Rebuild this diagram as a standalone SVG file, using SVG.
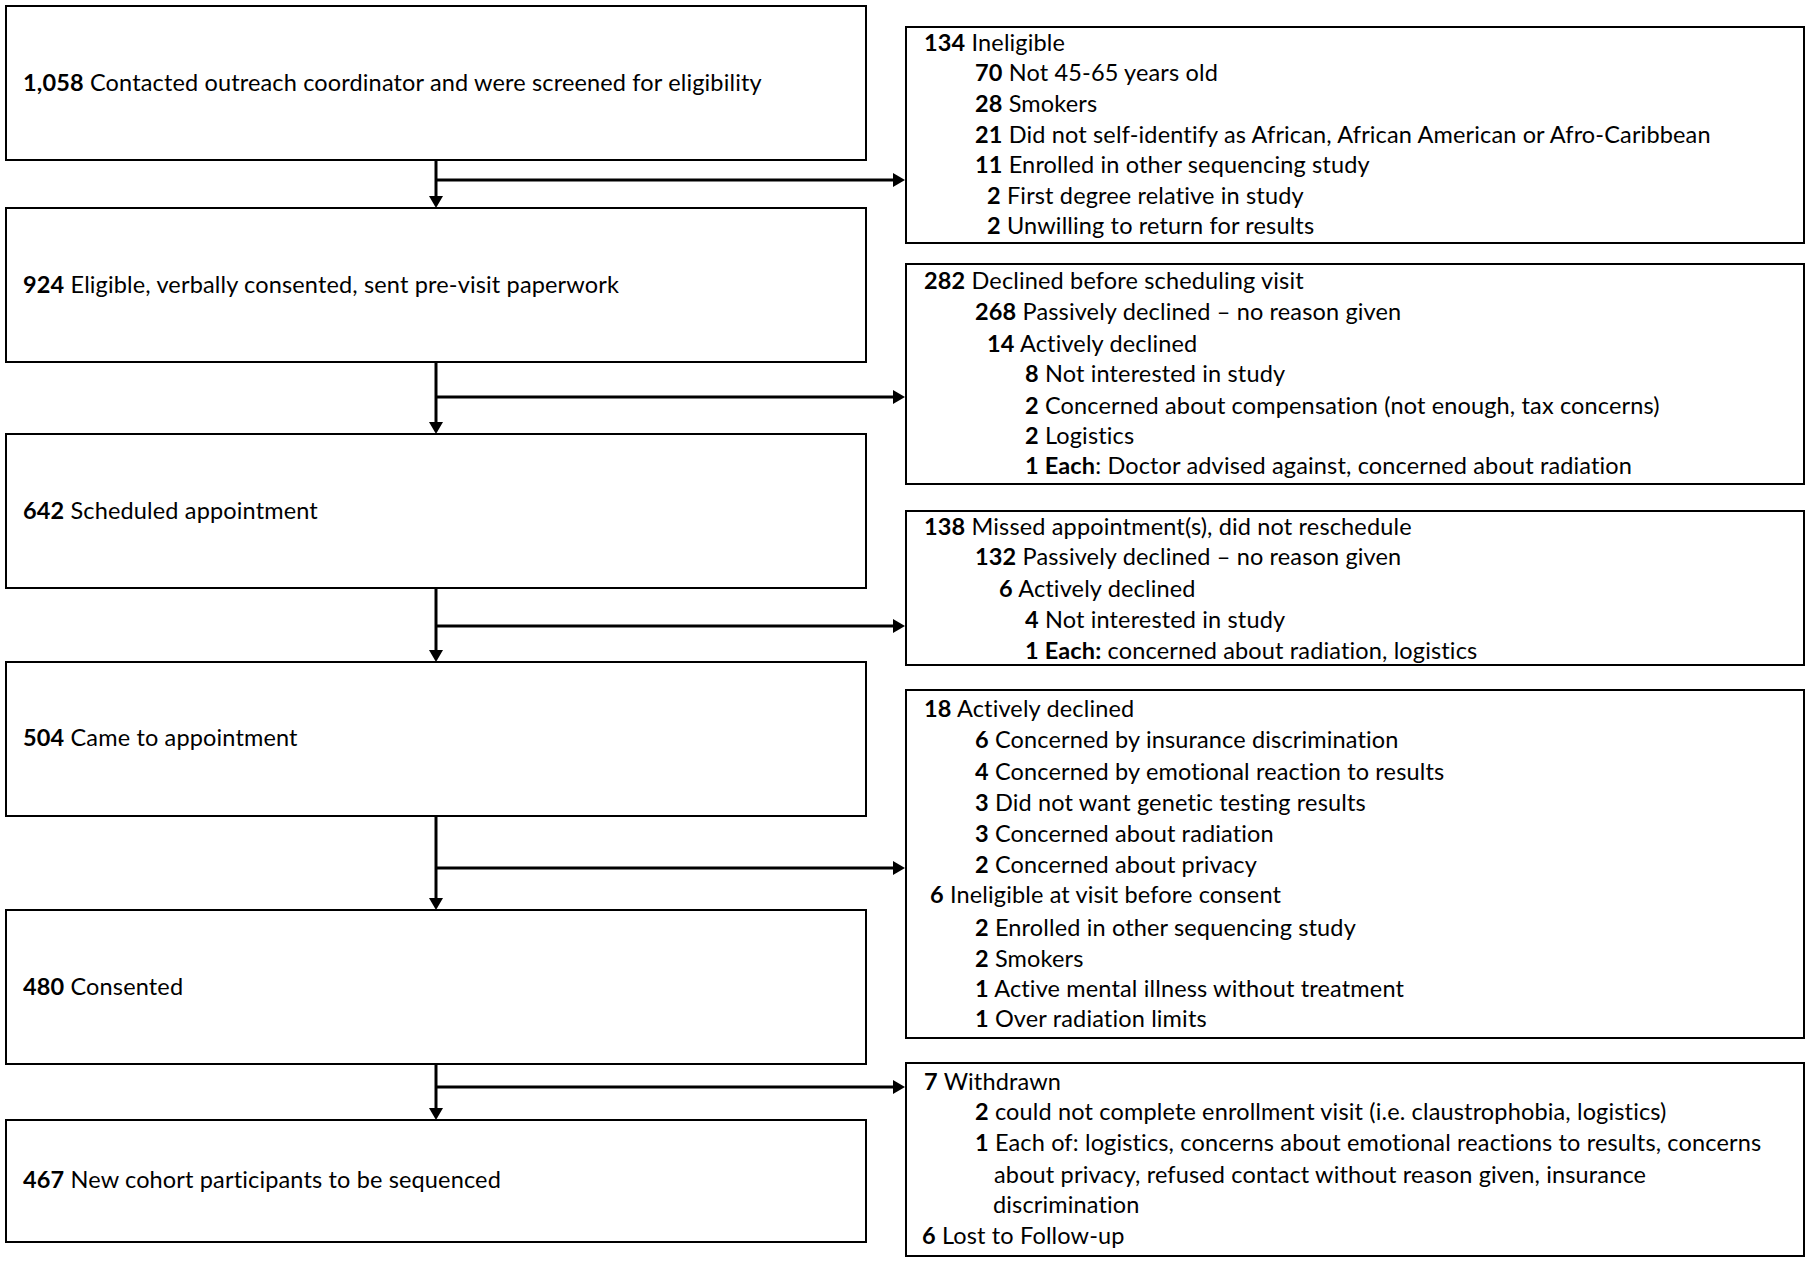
<svg xmlns="http://www.w3.org/2000/svg" width="1810" height="1262" viewBox="0 0 1810 1262">
<style>
.box{fill:#fff;stroke:#000;stroke-width:2}
.t{font-family:Lato,"Liberation Sans",sans-serif;font-size:23.5px;letter-spacing:0.15px;fill:#000}
.b{font-weight:bold}
.c{stroke:#000;stroke-width:3;fill:none;marker-end:url(#ah)}
</style>
<defs>
<marker id="ah" markerUnits="userSpaceOnUse" markerWidth="14" markerHeight="14" refX="0" refY="7" orient="auto" viewBox="0 0 14 14">
<path d="M0,0 L12,7 L0,14 z" fill="#000"/>
</marker>
</defs>
<rect width="1810" height="1262" fill="#fff"/>
<g id="connectors">
<line class="c" x1="436" y1="160" x2="436" y2="196"/>
<line class="c" x1="436" y1="180" x2="893" y2="180"/>
<line class="c" x1="436" y1="362" x2="436" y2="422"/>
<line class="c" x1="436" y1="397" x2="893" y2="397"/>
<line class="c" x1="436" y1="588" x2="436" y2="650"/>
<line class="c" x1="436" y1="626" x2="893" y2="626"/>
<line class="c" x1="436" y1="816" x2="436" y2="898"/>
<line class="c" x1="436" y1="868" x2="893" y2="868"/>
<line class="c" x1="436" y1="1064" x2="436" y2="1108"/>
<line class="c" x1="436" y1="1087" x2="893" y2="1087"/>
</g>
<g id="n1"><rect class="box" x="6" y="6" width="860" height="154"/>
<text class="t" x="23" y="91"><tspan class="b">1,058</tspan> Contacted outreach coordinator and were screened for eligibility</text></g>
<g id="n2"><rect class="box" x="6" y="208" width="860" height="154"/>
<text class="t" x="23" y="293"><tspan class="b">924</tspan> Eligible, verbally consented, sent pre-visit paperwork</text></g>
<g id="n3"><rect class="box" x="6" y="434" width="860" height="154"/>
<text class="t" x="23" y="519"><tspan class="b">642</tspan> Scheduled appointment</text></g>
<g id="n4"><rect class="box" x="6" y="662" width="860" height="154"/>
<text class="t" x="23" y="746"><tspan class="b">504</tspan> Came to appointment</text></g>
<g id="n5"><rect class="box" x="6" y="910" width="860" height="154"/>
<text class="t" x="23" y="995"><tspan class="b">480</tspan> Consented</text></g>
<g id="n6"><rect class="box" x="6" y="1120" width="860" height="122"/>
<text class="t" x="23" y="1188"><tspan class="b">467</tspan> New cohort participants to be sequenced</text></g>

<g id="r1"><rect class="box" x="906" y="27" width="898" height="216"/>
<text class="t" x="924" y="51"><tspan class="b">134</tspan> Ineligible</text>
<text class="t" x="975" y="81"><tspan class="b">70</tspan> Not 45-65 years old</text>
<text class="t" x="975" y="112"><tspan class="b">28</tspan> Smokers</text>
<text class="t" x="975" y="143"><tspan class="b">21</tspan> Did not self-identify as African, African American or Afro-Caribbean</text>
<text class="t" x="975" y="173"><tspan class="b">11</tspan> Enrolled in other sequencing study</text>
<text class="t" x="987" y="204"><tspan class="b">2</tspan> First degree relative in study</text>
<text class="t" x="987" y="234"><tspan class="b">2</tspan> Unwilling to return for results</text>
</g>
<g id="r2"><rect class="box" x="906" y="264" width="898" height="220"/>
<text class="t" x="924" y="289"><tspan class="b">282</tspan> Declined before scheduling visit</text>
<text class="t" x="975" y="320"><tspan class="b">268</tspan> Passively declined – no reason given</text>
<text class="t" x="987" y="352"><tspan class="b">14</tspan> Actively declined</text>
<text class="t" x="1025" y="382"><tspan class="b">8</tspan> Not interested in study</text>
<text class="t" x="1025" y="414"><tspan class="b">2</tspan> Concerned about compensation (not enough, tax concerns)</text>
<text class="t" x="1025" y="444"><tspan class="b">2</tspan> Logistics</text>
<text class="t" x="1025" y="474"><tspan class="b">1 Each</tspan>: Doctor advised against, concerned about radiation</text>
</g>
<g id="r3"><rect class="box" x="906" y="511" width="898" height="154"/>
<text class="t" x="924" y="535"><tspan class="b">138</tspan> Missed appointment(s), did not reschedule</text>
<text class="t" x="975" y="565"><tspan class="b">132</tspan> Passively declined – no reason given</text>
<text class="t" x="999" y="597"><tspan class="b">6</tspan> Actively declined</text>
<text class="t" x="1025" y="628"><tspan class="b">4</tspan> Not interested in study</text>
<text class="t" x="1025" y="659"><tspan class="b">1 Each:</tspan> concerned about radiation, logistics</text>
</g>
<g id="r4"><rect class="box" x="906" y="690" width="898" height="348"/>
<text class="t" x="924" y="717"><tspan class="b">18</tspan> Actively declined</text>
<text class="t" x="975" y="748"><tspan class="b">6</tspan> Concerned by insurance discrimination</text>
<text class="t" x="975" y="780"><tspan class="b">4</tspan> Concerned by emotional reaction to results</text>
<text class="t" x="975" y="811"><tspan class="b">3</tspan> Did not want genetic testing results</text>
<text class="t" x="975" y="842"><tspan class="b">3</tspan> Concerned about radiation</text>
<text class="t" x="975" y="873"><tspan class="b">2</tspan> Concerned about privacy</text>
<text class="t" x="930" y="903"><tspan class="b">6</tspan> Ineligible at visit before consent</text>
<text class="t" x="975" y="936"><tspan class="b">2</tspan> Enrolled in other sequencing study</text>
<text class="t" x="975" y="967"><tspan class="b">2</tspan> Smokers</text>
<text class="t" x="975" y="997"><tspan class="b">1</tspan> Active mental illness without treatment</text>
<text class="t" x="975" y="1027"><tspan class="b">1</tspan> Over radiation limits</text>
</g>
<g id="r5"><rect class="box" x="906" y="1063" width="898" height="193"/>
<text class="t" x="924" y="1090"><tspan class="b">7</tspan> Withdrawn</text>
<text class="t" x="975" y="1120"><tspan class="b">2</tspan> could not complete enrollment visit (i.e. claustrophobia, logistics)</text>
<text class="t" x="975" y="1151"><tspan class="b">1</tspan> Each of: logistics, concerns about emotional reactions to results, concerns</text>
<text class="t" x="994" y="1183">about privacy, refused contact without reason given, insurance</text>
<text class="t" x="993" y="1213">discrimination</text>
<text class="t" x="922" y="1244"><tspan class="b">6</tspan> Lost to Follow-up</text>
</g>
</svg>
